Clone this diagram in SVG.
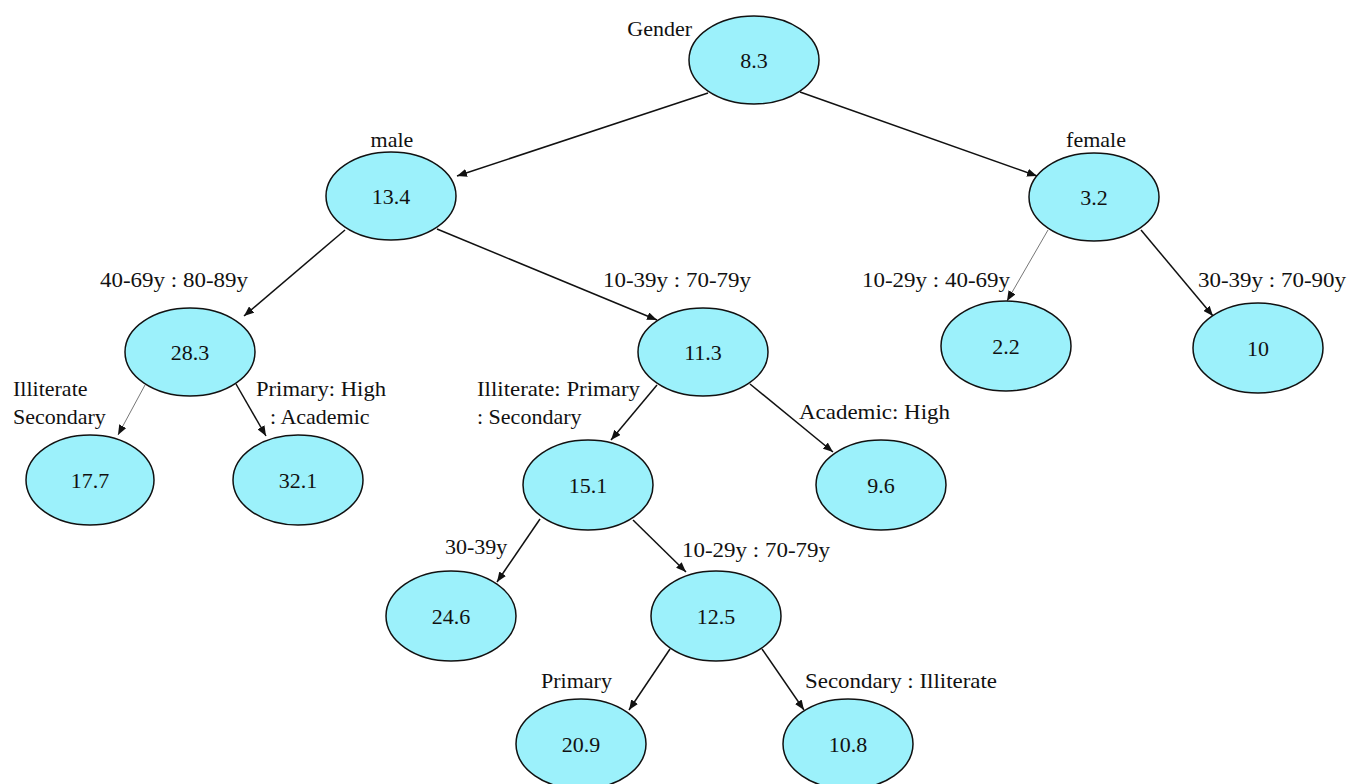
<svg xmlns="http://www.w3.org/2000/svg" width="1349" height="784" viewBox="0 0 1349 784">
<style>
.n ellipse{fill:#9cf1fb;stroke:#111;stroke-width:1.5}
text{font-family:"Liberation Serif","Times New Roman",serif;font-size:22px;fill:#111}
.v{text-anchor:middle}
.e line{stroke:#111;stroke-width:1.5;marker-end:url(#a)}
.e line.g{stroke:#777;stroke-width:1}
</style>
<defs>
<marker id="a" viewBox="0 0 10 8" refX="10" refY="4" markerWidth="10" markerHeight="8" markerUnits="userSpaceOnUse" orient="auto">
<path d="M0,0 L10,4 L0,8 Z" fill="#111"/>
</marker>
</defs>
<rect width="1349" height="784" fill="#fff"/>
<g class="e" id="connectors">
<line x1="708" y1="93" x2="457" y2="176"/>
<line x1="800" y1="92" x2="1037" y2="176"/>
<line x1="345" y1="230" x2="244" y2="316"/>
<line x1="437" y1="229" x2="657" y2="320"/>
<line class="g" x1="1048" y1="230" x2="1007" y2="301"/>
<line x1="1141" y1="230" x2="1213" y2="316"/>
<line class="g" x1="145" y1="385" x2="118" y2="435"/>
<line x1="236" y1="384" x2="266" y2="436"/>
<line x1="657" y1="385" x2="611" y2="440"/>
<line x1="750" y1="384" x2="833" y2="452"/>
<line x1="540" y1="519" x2="497" y2="582"/>
<line x1="633" y1="520" x2="686" y2="572"/>
<line x1="670" y1="649" x2="629" y2="710"/>
<line x1="762" y1="649" x2="804" y2="710"/>
</g>
<g id="labels">
<text x="692" y="36" text-anchor="end">Gender</text>
<text x="392" y="147" class="v">male</text>
<text x="1096" y="147" class="v">female</text>
<text x="100" y="287" textLength="148" lengthAdjust="spacingAndGlyphs">40-69y : 80-89y</text>
<text x="603" y="287" textLength="148" lengthAdjust="spacingAndGlyphs">10-39y : 70-79y</text>
<text x="862" y="287" textLength="148" lengthAdjust="spacingAndGlyphs">10-29y : 40-69y</text>
<text x="1198" y="287" textLength="148" lengthAdjust="spacingAndGlyphs">30-39y : 70-90y</text>
<text x="13" y="396">Illiterate</text>
<text x="13" y="424">Secondary</text>
<text x="256" y="396" textLength="130" lengthAdjust="spacingAndGlyphs">Primary:  High</text>
<text x="270" y="424">: Academic</text>
<text x="477" y="396" textLength="163" lengthAdjust="spacingAndGlyphs">Illiterate:  Primary</text>
<text x="477" y="424">: Secondary</text>
<text x="799" y="419" textLength="151" lengthAdjust="spacingAndGlyphs">Academic:  High</text>
<text x="445" y="554">30-39y</text>
<text x="682" y="557" textLength="148" lengthAdjust="spacingAndGlyphs">10-29y : 70-79y</text>
<text x="541" y="688">Primary</text>
<text x="805" y="688" textLength="192" lengthAdjust="spacingAndGlyphs">Secondary  : Illiterate</text>
</g>
<g class="n" id="n83"><ellipse cx="754" cy="60" rx="65" ry="44"/><text x="754" y="68" class="v">8.3</text></g>
<g class="n" id="n134"><ellipse cx="391" cy="196" rx="65" ry="44"/><text x="391" y="204" class="v">13.4</text></g>
<g class="n" id="n32"><ellipse cx="1094" cy="197" rx="65" ry="44"/><text x="1094" y="205" class="v">3.2</text></g>
<g class="n" id="n283"><ellipse cx="190" cy="352" rx="65" ry="44"/><text x="190" y="360" class="v">28.3</text></g>
<g class="n" id="n113"><ellipse cx="703" cy="352" rx="65" ry="44"/><text x="703" y="360" class="v">11.3</text></g>
<g class="n" id="n22"><ellipse cx="1006" cy="346" rx="65" ry="45"/><text x="1006" y="354" class="v">2.2</text></g>
<g class="n" id="n10"><ellipse cx="1258" cy="348" rx="65" ry="45"/><text x="1258" y="356" class="v">10</text></g>
<g class="n" id="n177"><ellipse cx="90" cy="480" rx="64" ry="45"/><text x="90" y="488" class="v">17.7</text></g>
<g class="n" id="n321"><ellipse cx="298" cy="480" rx="65" ry="45"/><text x="298" y="488" class="v">32.1</text></g>
<g class="n" id="n151"><ellipse cx="588" cy="485" rx="65" ry="45"/><text x="588" y="493" class="v">15.1</text></g>
<g class="n" id="n96"><ellipse cx="881" cy="485" rx="65" ry="45"/><text x="881" y="493" class="v">9.6</text></g>
<g class="n" id="n246"><ellipse cx="451" cy="616" rx="65" ry="45"/><text x="451" y="624" class="v">24.6</text></g>
<g class="n" id="n125"><ellipse cx="716" cy="616" rx="65" ry="45"/><text x="716" y="624" class="v">12.5</text></g>
<g class="n" id="n209"><ellipse cx="581" cy="744" rx="65" ry="45"/><text x="581" y="752" class="v">20.9</text></g>
<g class="n" id="n108"><ellipse cx="848" cy="744" rx="65" ry="45"/><text x="848" y="752" class="v">10.8</text></g>
</svg>
